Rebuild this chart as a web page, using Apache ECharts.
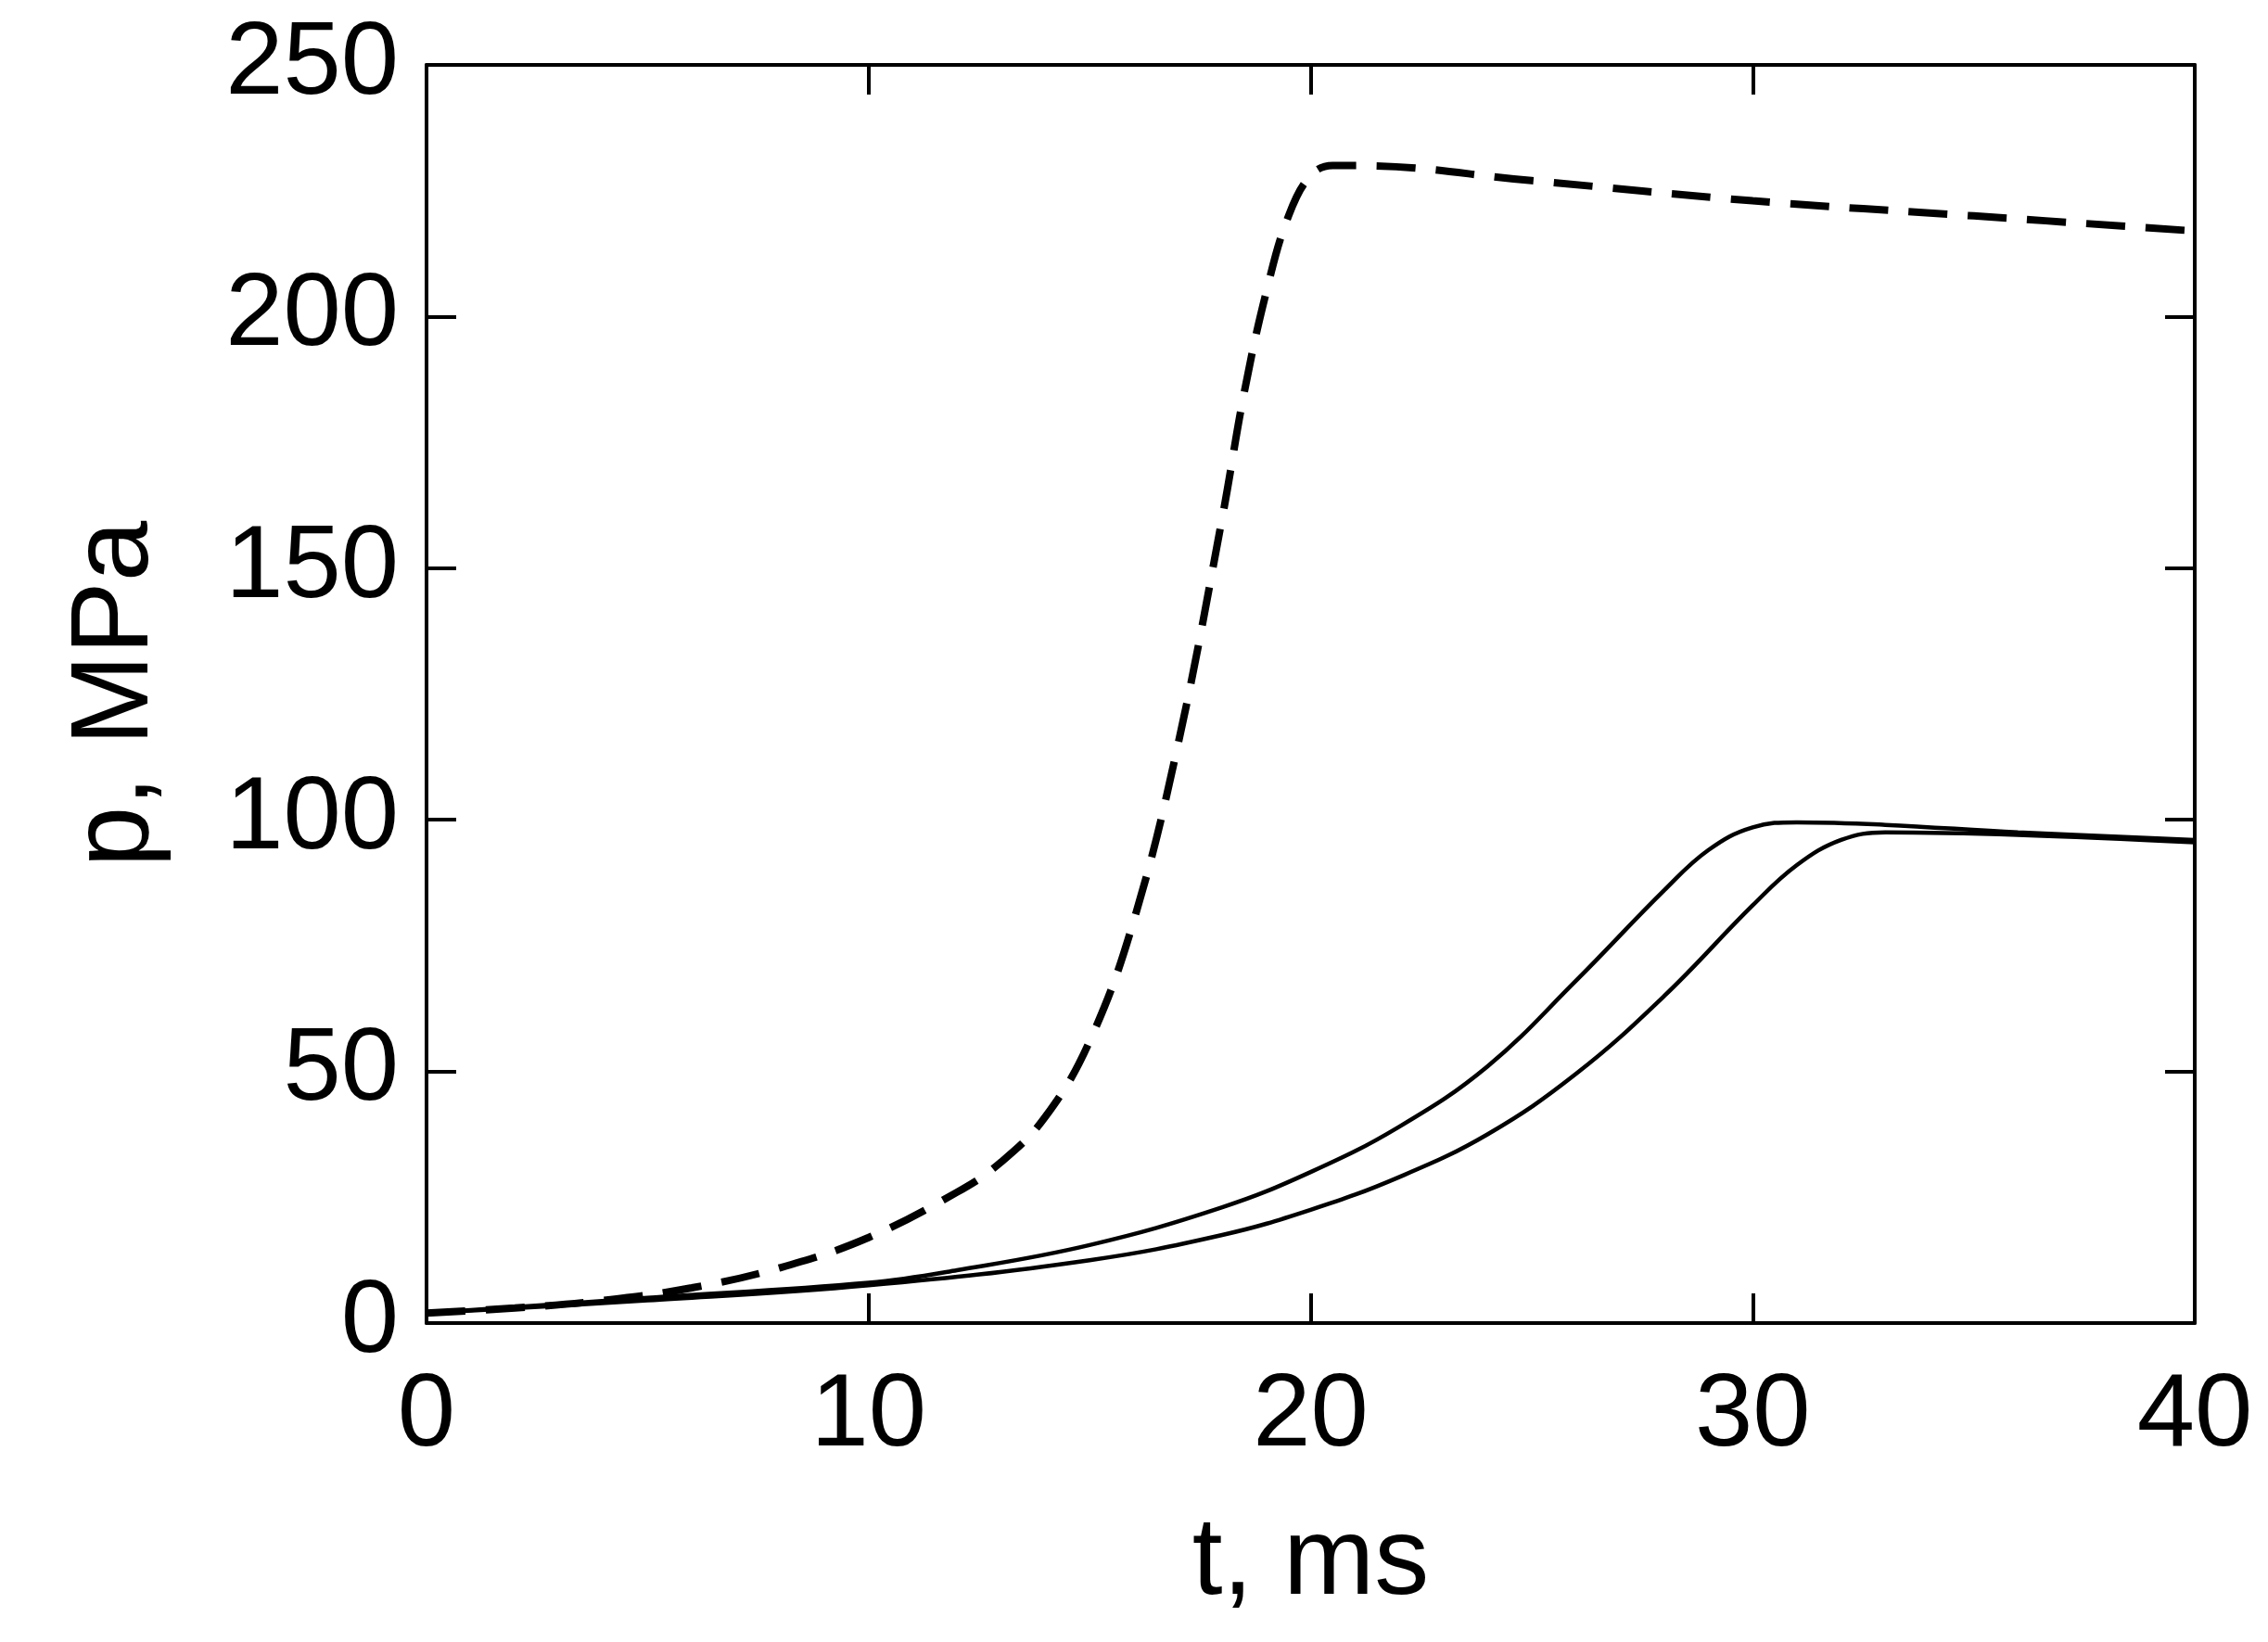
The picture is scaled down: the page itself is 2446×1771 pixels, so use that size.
<!DOCTYPE html><html><head><meta charset="utf-8"><script src="https://cdn.jsdelivr.net/npm/echarts@6/dist/echarts.min.js"></script>
<style>html,body{margin:0;background:#fff}#c{width:2446px;height:1771px}</style></head><body><div id="c"></div><script>
const dashedT=[0,2,4,6,8,10,12,13,14,15,16,17,18,18.5,19,19.5,20,20.5,21,25,30,35,40];
const dashedP=[2,3,4.5,7,11,17,26,32,41,56,80,115,160,185,205,220,228,230,230,227,223,220,217];
const s1T=[0,5,10,12,15,18,20,22,24,26,28,29,30,31,33,36,40];
const s1P=[2,5,8,10.5,15.5,23,30,39,51,68,86,94,98.5,99.5,99,97.5,96];
const s2T=[0,5,10,15,18,20,22,24,26,28,30,31,32,33,36,40];
const s2P=[2,4.5,7.5,12.5,17.5,22.5,29,37.5,49.5,65,83,91,96,97.5,97,95.5];
const z=(a,b)=>a.map((v,i)=>[v,b[i]]);
const ff='Liberation Sans, Arial, sans-serif';
function ax(extra){return Object.assign({min:0,splitLine:{show:false},axisLine:{show:true,onZero:false,lineStyle:{color:'#000',width:4}},axisTick:{show:true,inside:true,length:32,lineStyle:{color:'#000',width:4}}},extra);}
const lab={fontSize:112,fontFamily:ff,color:'#000'};
const ch=echarts.init(document.getElementById('c'));
ch.setOption({animation:false,
grid:{left:460,right:79,top:70,bottom:344},
xAxis:[ax({type:'value',position:'bottom',max:40,interval:10,name:'t, ms',nameLocation:'middle',nameGap:200,nameTextStyle:{fontSize:118,fontFamily:ff,color:'#000'},axisLabel:Object.assign({margin:45},lab)}),
ax({type:'value',position:'top',max:40,interval:10,axisLabel:{show:false}})],
yAxis:[ax({type:'value',position:'left',max:250,interval:50,name:'p, MPa',nameLocation:'middle',nameGap:275,nameTextStyle:{fontSize:118,fontFamily:ff,color:'#000'},axisLabel:Object.assign({margin:30},lab)}),
ax({type:'value',position:'right',max:250,interval:50,axisLabel:{show:false}})],
series:[
{type:'line',data:z(dashedT,dashedP),smooth:0.4,showSymbol:false,lineStyle:{color:'#000',width:8,type:[42,22]}},
{type:'line',data:z(s1T,s1P),smooth:0.4,showSymbol:false,lineStyle:{color:'#000',width:4.5}},
{type:'line',data:z(s2T,s2P),smooth:0.4,showSymbol:false,lineStyle:{color:'#000',width:4.5}},
{type:'line',xAxisIndex:1,yAxisIndex:1,data:[],silent:true}
]});
</script></body></html>
